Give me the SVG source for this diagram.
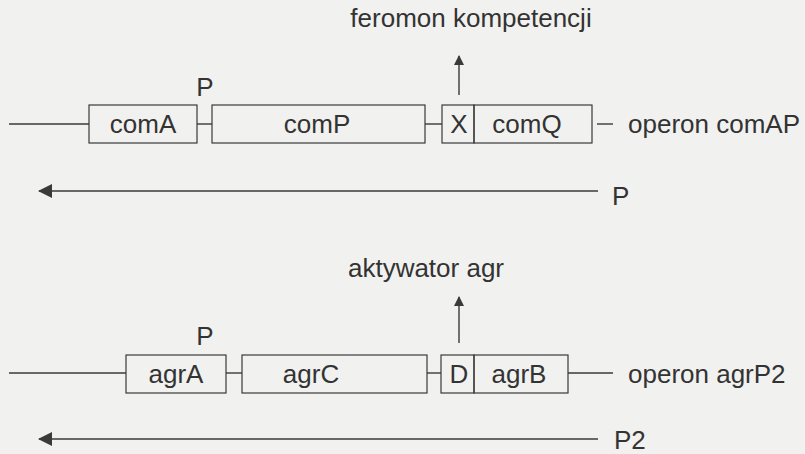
<svg xmlns="http://www.w3.org/2000/svg" width="805" height="454" viewBox="0 0 805 454">
  <style>
    .bg { fill: #f1f1ef; }
    .ln { stroke: #3a3a3a; stroke-width: 1.4; fill: none; }
    .box { stroke: #3a3a3a; stroke-width: 1.2; fill: none; }
    .t { font-family: "Liberation Sans", Arial, sans-serif; font-size: 26px; fill: #333; }
    .c { text-anchor: middle; }
  </style>
  <defs>
    <marker id="head" viewBox="0 0 10 10" refX="9" refY="5" markerWidth="10" markerHeight="10" markerUnits="userSpaceOnUse" orient="auto">
      <path d="M0,0 L10,5 L0,10 Z" fill="#3a3a3a"/>
    </marker>
    <marker id="headL" viewBox="0 0 14 14" refX="13" refY="7" markerWidth="14" markerHeight="14" markerUnits="userSpaceOnUse" orient="auto">
      <path d="M0,0 L14,7 L0,14 Z" fill="#3a3a3a"/>
    </marker>
  </defs>
  <rect class="bg" width="805" height="454"/>

  <!-- operon comAP -->
  <g id="comA">
    <rect class="box" x="89" y="105" width="108" height="38"/>
    <text class="t c" x="143" y="133">comA</text>
  </g>
  <g id="comP">
    <rect class="box" x="212" y="105" width="213" height="38"/>
    <text class="t c" x="317" y="133">comP</text>
  </g>
  <g id="comX">
    <rect class="box" x="442" y="105" width="32" height="38"/>
    <text class="t c" x="459" y="133">X</text>
  </g>
  <g id="comQ">
    <rect class="box" x="474" y="105" width="118" height="38"/>
    <text class="t c" x="527" y="133">comQ</text>
  </g>
  <g id="labels-com">
    <text class="t c" x="205" y="96">P</text>
    <text class="t c" x="471" y="27">feromon kompetencji</text>
    <text class="t" x="628" y="133">operon comAP</text>
    <text class="t" x="612" y="205">P</text>
  </g>

  <!-- operon agrP2 -->
  <g id="agrA">
    <rect class="box" x="126" y="355" width="100" height="38"/>
    <text class="t c" x="176" y="383">agrA</text>
  </g>
  <g id="agrC">
    <rect class="box" x="242" y="355" width="185" height="38"/>
    <text class="t c" x="311" y="383">agrC</text>
  </g>
  <g id="agrD">
    <rect class="box" x="441" y="355" width="33" height="38"/>
    <text class="t c" x="459" y="383">D</text>
  </g>
  <g id="agrB">
    <rect class="box" x="474" y="355" width="94" height="38"/>
    <text class="t c" x="519" y="383">agrB</text>
  </g>
  <g id="labels-agr">
    <text class="t c" x="205" y="345">P</text>
    <text class="t c" x="426" y="277">aktywator agr</text>
    <text class="t" x="628" y="383">operon agrP2</text>
    <text class="t" x="614" y="449">P2</text>
  </g>

  <!-- DNA backbone, transcripts and product arrows -->
  <g id="connectors">
    <line class="ln" x1="9" y1="124" x2="89" y2="124"/>
    <line class="ln" x1="197" y1="124" x2="212" y2="124"/>
    <line class="ln" x1="425" y1="124" x2="442" y2="124"/>
    <line class="ln" x1="597" y1="124" x2="613" y2="124"/>
    <line class="ln" x1="459" y1="95" x2="459" y2="56" marker-end="url(#head)"/>
    <line class="ln" x1="598" y1="191" x2="39" y2="191" marker-end="url(#headL)"/>

    <line class="ln" x1="9" y1="373" x2="126" y2="373"/>
    <line class="ln" x1="226" y1="373" x2="242" y2="373"/>
    <line class="ln" x1="427" y1="373" x2="441" y2="373"/>
    <line class="ln" x1="568" y1="373" x2="613" y2="373"/>
    <line class="ln" x1="459" y1="343" x2="459" y2="297" marker-end="url(#head)"/>
    <line class="ln" x1="598" y1="439" x2="39" y2="439" marker-end="url(#headL)"/>
  </g>
</svg>
